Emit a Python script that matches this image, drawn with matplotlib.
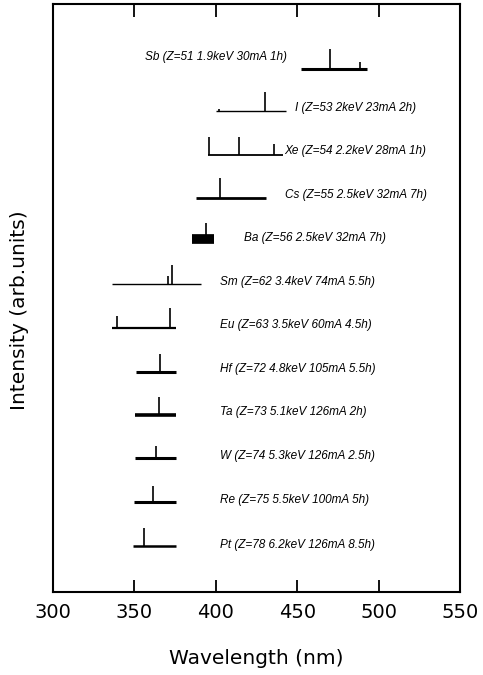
import matplotlib
matplotlib.use('Agg')
import matplotlib.pyplot as plt

# spectra, top to bottom
elements = ['Sb', 'I', 'Xe', 'Cs', 'Ba', 'Sm', 'Eu', 'Hf', 'Ta', 'W', 'Re', 'Pt']
labels = ['Sb (Z=51 1.9keV 30mA 1h)',
          'I (Z=53 2keV 23mA 2h)',
          'Xe (Z=54 2.2keV 28mA 1h)',
          'Cs (Z=55 2.5keV 32mA 7h)',
          'Ba (Z=56 2.5keV 32mA 7h)',
          'Sm (Z=62 3.4keV 74mA 5.5h)',
          'Eu (Z=63 3.5keV 60mA 4.5h)',
          'Hf (Z=72 4.8keV 105mA 5.5h)',
          'Ta (Z=73 5.1keV 126mA 2h)',
          'W (Z=74 5.3keV 126mA 2.5h)',
          'Re (Z=75 5.5keV 100mA 5h)',
          'Pt (Z=78 6.2keV 126mA 8.5h)']
offsets = [12.0, 11.03, 10.02, 9.04, 8.1, 7.06, 6.06, 5.05, 4.06, 3.07, 2.07, 1.05]
wl_start = [452.4, 400.0, 395.0, 388.0, 385.6, 336.0, 336.0, 351.0, 350.2, 350.2, 349.8, 349.2]
wl_end = [493.0, 443.0, 441.0, 431.0, 399.0, 391.0, 375.8, 375.4, 375.4, 375.4, 375.4, 375.4]
peak_wl = [[470.0, 488.7], [402.0, 430.3], [396.0, 414.0, 436.0], [402.3], [394.0],
           [370.5, 372.8], [339.4, 372.1], [366.0], [365.0], [363.0], [361.5], [356.0]]
peak_int = [[0.46, 0.15], [0.06, 0.44], [0.42, 0.43, 0.25], [0.46], [0.37],
            [0.20, 0.44], [0.27, 0.46], [0.42], [0.41], [0.28], [0.37], [0.41]]
label_x = [443.4, 448.9, 442.2, 442.2, 417.6, 402.3, 402.3, 402.3, 402.3, 402.3, 402.3, 402.3]
label_y = [12.27, 11.1, 10.11, 9.1, 8.12, 7.11, 6.12, 5.11, 4.13, 3.12, 2.11, 1.08]
label_ha = ['right'] + ['left'] * 11

# apparent noise thickness of each baseline
noise_lw = [2.2, 1.0, 1.3, 2.0, 7.0, 1.0, 1.6, 2.2, 2.6, 2.2, 2.2, 1.8]

fig = plt.figure(figsize=(4.83, 6.75), dpi=100)
ax = fig.add_axes([53/483, 1-592/675, 407/483, 588/675])

for i in range(len(elements)):
    y0 = offsets[i]
    ax.plot([wl_start[i], wl_end[i]], [y0, y0], color='black', lw=noise_lw[i],
            solid_capstyle='butt')
    ax.vlines(peak_wl[i], y0, [y0 + h for h in peak_int[i]], color='black', lw=1.2)
    ax.text(label_x[i], label_y[i], labels[i], ha=label_ha[i], va='center',
            fontsize=8.5, style='italic', family='Liberation Sans')

ax.set_xlim(300, 550)
ax.set_ylim(0, 13.49)
ax.set_xticks([300, 350, 400, 450, 500, 550])
ax.set_yticks([])
ax.tick_params(axis='x', direction='in', length=9, width=1.3, top=True,
               labelsize=14, pad=8)
for sp in ax.spines.values():
    sp.set_linewidth(1.5)
ax.set_xlabel('Wavelength (nm)', fontsize=14.5, labelpad=19)
fig.text(20/483, 1-310/675, 'Intensity (arb.units)', rotation=90,
         ha='center', va='center', fontsize=14.5)

fig.savefig('out.png', dpi=100)
